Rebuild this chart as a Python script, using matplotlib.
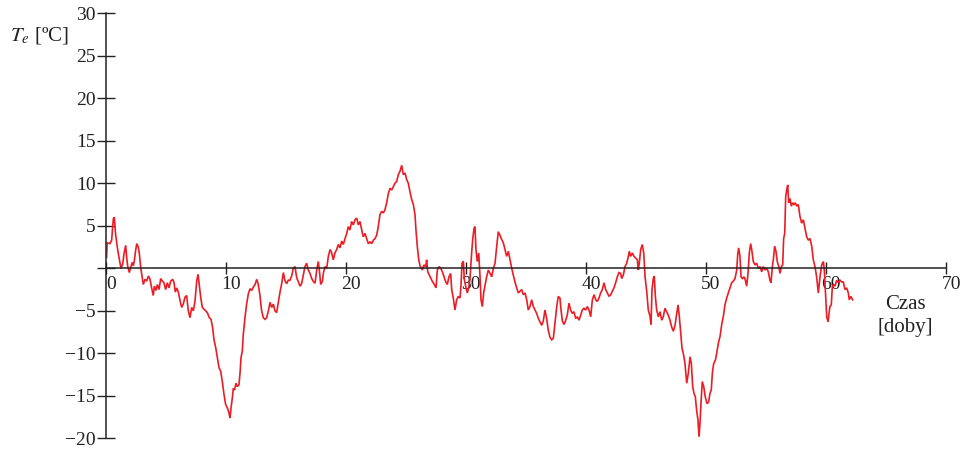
import numpy as np
import matplotlib
matplotlib.use("Agg")
from matplotlib import pyplot as plt
from matplotlib.ticker import FixedLocator, FixedFormatter
from matplotlib.transforms import ScaledTranslation

plt.rcParams['font.family'] = ['Liberation Serif', 'DejaVu Serif']
plt.rcParams['mathtext.fontset'] = 'stix'

# czas [doby] and outdoor temperature Te [C]
days = [
    0.05, 0.1, 0.33, 0.47, 0.61, 0.69, 0.8, 0.94, 1.08, 1.25, 1.39, 1.5, 1.64, 1.72, 1.8, 1.94,
    2.06, 2.19, 2.28, 2.36, 2.47, 2.56, 2.69, 2.78, 2.89, 3.0, 3.11, 3.25, 3.39, 3.53, 3.67, 3.8,
    3.94, 4.03, 4.17, 4.28, 4.42, 4.56, 4.69, 4.83, 4.97, 5.11, 5.25, 5.39, 5.56, 5.67, 5.78, 5.89,
    6.03, 6.17, 6.31, 6.44, 6.58, 6.72, 6.86, 7.0, 7.14, 7.28, 7.42, 7.56, 7.67, 7.78, 7.9, 8.03,
    8.17, 8.31, 8.44, 8.61, 8.75, 8.89, 9.0, 9.14, 9.28, 9.42, 9.56, 9.69, 9.83, 9.97, 10.11, 10.25,
    10.33, 10.42, 10.53, 10.61, 10.72, 10.83, 10.94, 11.08, 11.17, 11.25, 11.36, 11.44, 11.58, 11.72, 11.86, 12.0,
    12.14, 12.28, 12.42, 12.56, 12.69, 12.83, 12.97, 13.11, 13.25, 13.39, 13.53, 13.67, 13.81, 13.94, 14.08, 14.22,
    14.36, 14.5, 14.64, 14.78, 14.92, 15.06, 15.19, 15.33, 15.47, 15.61, 15.75, 15.89, 16.03, 16.17, 16.31, 16.44,
    16.58, 16.72, 16.86, 17.0, 17.14, 17.28, 17.42, 17.56, 17.69, 17.78, 17.89, 18.03, 18.11, 18.25, 18.39, 18.53,
    18.67, 18.81, 18.94, 19.08, 19.22, 19.36, 19.5, 19.64, 19.78, 19.92, 20.06, 20.19, 20.33, 20.47, 20.61, 20.75,
    20.89, 21.03, 21.17, 21.31, 21.44, 21.58, 21.72, 21.86, 22.0, 22.14, 22.28, 22.42, 22.56, 22.69, 22.83, 22.97,
    23.11, 23.25, 23.39, 23.53, 23.67, 23.81, 23.94, 24.08, 24.22, 24.36, 24.5, 24.64, 24.78, 24.92, 25.06, 25.19,
    25.33, 25.47, 25.61, 25.75, 25.83, 25.94, 26.06, 26.17, 26.36, 26.5, 26.64, 26.72, 26.81, 26.94, 27.08, 27.22,
    27.36, 27.5, 27.61, 27.75, 27.89, 28.03, 28.17, 28.31, 28.44, 28.58, 28.72, 28.81, 28.94, 29.08, 29.22, 29.36,
    29.5, 29.58, 29.67, 29.78, 29.86, 30.0, 30.11, 30.22, 30.33, 30.47, 30.56, 30.67, 30.75, 30.83, 30.94, 31.06,
    31.17, 31.25, 31.36, 31.47, 31.61, 31.72, 31.86, 32.0, 32.14, 32.28, 32.42, 32.56, 32.69, 32.83, 32.97, 33.11,
    33.25, 33.39, 33.53, 33.67, 33.81, 33.94, 34.08, 34.22, 34.36, 34.5, 34.64, 34.78, 34.92, 35.06, 35.19, 35.33,
    35.47, 35.61, 35.75, 35.89, 36.03, 36.17, 36.31, 36.44, 36.58, 36.72, 36.86, 37.0, 37.14, 37.28, 37.42, 37.56,
    37.69, 37.83, 37.92, 38.03, 38.17, 38.31, 38.44, 38.58, 38.72, 38.86, 39.0, 39.14, 39.28, 39.42, 39.56, 39.69,
    39.83, 39.97, 40.11, 40.25, 40.39, 40.53, 40.67, 40.81, 40.94, 41.08, 41.22, 41.36, 41.5, 41.64, 41.78, 41.92,
    42.06, 42.19, 42.33, 42.47, 42.61, 42.75, 42.89, 42.97, 43.11, 43.25, 43.39, 43.53, 43.61, 43.72, 43.86, 44.0,
    44.14, 44.28, 44.36, 44.44, 44.56, 44.69, 44.81, 44.92, 45.06, 45.19, 45.33, 45.42, 45.5, 45.61, 45.69, 45.78,
    45.89, 46.03, 46.17, 46.31, 46.44, 46.58, 46.72, 46.86, 47.0, 47.14, 47.28, 47.42, 47.56, 47.67, 47.78, 47.89,
    48.0, 48.11, 48.25, 48.39, 48.53, 48.67, 48.78, 48.89, 49.0, 49.11, 49.22, 49.33, 49.42, 49.5, 49.58, 49.69,
    49.81, 49.94, 50.08, 50.22, 50.33, 50.44, 50.53, 50.64, 50.78, 50.89, 51.03, 51.17, 51.31, 51.44, 51.58, 51.72,
    51.86, 52.0, 52.14, 52.28, 52.42, 52.56, 52.64, 52.72, 52.83, 52.92, 53.03, 53.17, 53.28, 53.39, 53.5, 53.61,
    53.72, 53.81, 53.94, 54.08, 54.22, 54.36, 54.5, 54.64, 54.78, 54.92, 55.06, 55.19, 55.33, 55.42, 55.53, 55.61,
    55.72, 55.83, 55.94, 56.06, 56.17, 56.28, 56.39, 56.47, 56.56, 56.64, 56.72, 56.81, 56.89, 57.0, 57.11, 57.22,
    57.33, 57.44, 57.56, 57.69, 57.83, 57.97, 58.11, 58.25, 58.39, 58.53, 58.67, 58.81, 58.94, 59.08, 59.22, 59.36,
    59.5, 59.64, 59.78, 59.86, 59.94, 60.06, 60.17, 60.25, 60.33, 60.44, 60.53, 60.64, 60.75, 60.89, 61.03, 61.17,
    61.31, 61.44, 61.58, 61.72, 61.86, 61.94, 62.06, 62.22,
]
te = [
    1.3, 3.0, 2.9, 3.3, 5.8, 6.0, 4.0, 2.5, 1.3, 0.0, 0.5, 1.7, 2.7, 1.3, 0.3, -0.5,
    0.1, 0.7, 0.3, 0.9, 2.1, 2.9, 2.5, 1.7, 0.1, -0.9, -1.9, -1.3, -1.5, -0.9, -1.3, -2.3,
    -3.2, -2.1, -2.6, -1.9, -2.5, -1.2, -1.5, -1.7, -2.5, -1.7, -2.3, -1.5, -1.3, -1.7, -2.8, -2.3,
    -2.8, -3.8, -4.6, -4.2, -3.4, -3.2, -5.0, -5.8, -4.6, -5.0, -3.8, -1.5, -0.7, -2.0, -3.5, -4.6,
    -4.8, -5.0, -5.2, -5.8, -6.0, -7.0, -8.4, -9.3, -10.5, -11.7, -12.1, -13.3, -14.8, -16.0, -16.4, -17.0,
    -17.6, -16.4, -15.2, -14.1, -14.3, -13.5, -13.9, -13.7, -12.3, -10.5, -9.7, -7.8, -5.8, -4.2, -3.0, -2.4,
    -2.6, -2.2, -1.9, -1.3, -1.9, -3.2, -5.0, -5.8, -6.0, -5.8, -5.0, -4.0, -4.6, -4.2, -5.0, -5.2,
    -4.0, -2.8, -1.8, -0.5, -1.5, -1.8, -1.4, -1.4, -0.9, 0.0, 0.2, -1.1, -1.6, -2.1, -1.75, -0.8,
    0.2, 0.6, -0.2, -0.6, -1.2, -1.55, -1.75, -0.2, 0.8, -0.2, -1.9, -1.55, -0.6, 0.2, 0.0, 1.4,
    2.2, 1.8, 1.0, 1.8, 2.2, 2.8, 2.4, 3.2, 2.8, 3.5, 4.1, 4.9, 4.5, 5.5, 5.1, 5.7,
    5.9, 5.1, 5.5, 4.5, 3.7, 4.1, 3.5, 2.9, 3.1, 2.9, 3.3, 3.5, 3.9, 4.9, 6.3, 6.7,
    6.5, 6.9, 7.7, 8.8, 9.4, 9.2, 9.6, 10.0, 10.2, 11.0, 11.4, 12.1, 11.0, 11.2, 10.4, 10.0,
    9.0, 8.1, 7.5, 6.3, 4.5, 2.6, 1.0, 0.3, -0.2, 0.4, 0.2, 1.0, -0.4, -0.8, -1.2, -1.6,
    -1.9, -2.3, -0.2, 0.2, 0.0, -0.4, -1.0, -1.6, -1.9, -1.0, -0.6, -2.5, -3.5, -4.9, -3.7, -3.3,
    -3.5, -2.1, 0.6, 0.8, -1.3, -2.3, -2.9, -2.3, -1.3, 1.8, 3.4, 4.7, 4.9, 2.2, 0.8, 1.8,
    -1.0, -3.7, -4.5, -2.9, -1.8, -1.0, -0.2, -0.6, -1.0, 0.0, 0.6, 2.6, 4.3, 3.9, 3.4, 3.0,
    2.2, 1.4, 2.0, 1.0, 0.0, -0.8, -1.6, -2.3, -2.9, -2.7, -2.5, -3.1, -2.9, -3.7, -4.9, -4.5,
    -3.7, -4.5, -4.9, -5.3, -5.9, -6.3, -6.7, -6.2, -4.9, -5.9, -7.3, -8.1, -8.4, -8.2, -6.4, -4.5,
    -3.3, -3.5, -4.9, -6.2, -6.6, -6.1, -5.5, -4.1, -4.9, -5.3, -5.1, -5.9, -5.7, -6.1, -5.5, -4.9,
    -4.7, -4.9, -4.5, -4.9, -5.7, -3.7, -3.1, -3.7, -3.9, -3.5, -2.9, -2.5, -1.7, -2.5, -2.9, -3.3,
    -3.1, -2.7, -2.3, -1.7, -1.0, -0.5, -0.6, -1.2, -0.8, 0.2, 0.6, 1.4, 2.0, 1.4, 1.8, 1.4,
    1.2, 1.0, -0.2, 0.6, 2.2, 2.8, 1.8, -1.0, -2.7, -4.9, -5.6, -6.6, -2.5, -1.2, -0.9, -3.3,
    -4.9, -5.7, -5.1, -6.1, -5.7, -4.7, -5.1, -5.5, -6.1, -6.9, -7.4, -6.7, -5.3, -4.3, -5.7, -7.6,
    -9.4, -10.0, -11.2, -13.5, -12.3, -10.4, -11.2, -13.9, -14.7, -15.1, -16.7, -17.8, -19.8, -18.2, -15.9, -13.3,
    -13.9, -15.1, -15.9, -15.7, -14.7, -14.3, -12.3, -11.2, -10.8, -10.0, -8.8, -8.0, -6.6, -5.7, -4.3, -3.5,
    -2.9, -2.3, -1.7, -1.5, -1.2, -0.2, 1.6, 2.4, 1.4, -1.0, -1.2, -1.0, -1.4, -2.1, -0.6, 1.8,
    2.9, 2.2, 0.8, 0.4, 0.6, 0.0, 0.2, -0.4, 0.2, -0.2, 0.0, -0.4, -1.4, -1.7, 0.2, 1.0,
    2.6, 2.0, 0.8, 0.2, -0.6, 0.2, 0.4, 3.5, 4.1, 8.4, 9.2, 9.8, 7.7, 8.2, 7.3, 7.7,
    7.5, 7.7, 7.3, 7.5, 6.1, 5.3, 5.7, 4.7, 3.7, 3.3, 3.5, 2.6, 1.0, 0.2, -1.0, -2.9,
    -1.0, 0.4, 0.8, -0.2, -2.5, -5.7, -6.3, -5.3, -4.5, -4.3, -2.1, -1.9, -2.1, -1.4, -1.7, -1.4,
    -1.6, -1.6, -2.5, -2.3, -2.9, -3.7, -3.3, -3.7,
]

xticks = [0, 10, 20, 30, 40, 50, 60, 70]
yticks = [30, 25, 20, 15, 10, 5, 0, -5, -10, -15, -20]
ytick_labels = ['30', '25', '20', '15', '10', '5', '', '\u22125', '\u221210', '\u221215', '\u221220']

W, H = 963, 451
fig = plt.figure(figsize=(W / 100, H / 100), dpi=100)
ax = fig.add_axes([106 / W, 12.5 / H, 840 / W, 425.5 / H])

ax.plot(days, te, color='#ec1c24', lw=1.2, solid_joinstyle='miter')

ax.set_xlim(0, 70)
ax.set_ylim(-20, 30)

# axes cross at the origin
for side in ['top', 'right']:
    ax.spines[side].set_visible(False)
ax.spines['left'].set_position(('data', 0))
ax.spines['bottom'].set_position(('data', 0))
for side in ['left', 'bottom']:
    ax.spines[side].set_color('#222222')
    ax.spines[side].set_linewidth(1.1)

ax.xaxis.set_major_locator(FixedLocator(xticks))
ax.xaxis.set_major_formatter(FixedFormatter([str(v) for v in xticks]))
ax.yaxis.set_major_locator(FixedLocator(yticks))
ax.yaxis.set_major_formatter(FixedFormatter(ytick_labels))

ax.tick_params(axis='x', direction='inout', length=9, width=1.0, color='#222222',
               pad=1, labelsize=14, labelcolor='#222222')
ax.tick_params(axis='y', direction='inout', length=13, width=1.0, color='#222222',
               pad=1, labelsize=14, labelcolor='#222222')

shift = ScaledTranslation(5 / 100, 0, fig.dpi_scale_trans)
for lab in ax.get_xticklabels():
    lab.set_transform(lab.get_transform() + shift)

fig.text(10 / W, 1 - 36 / H, '$T_e$ [ºC]', fontsize=15, color='#222222',
         ha='left', va='center')
fig.text(905 / W, 1 - 316 / H, 'Czas\n[doby]', fontsize=15, color='#222222',
         ha='center', va='center', linespacing=1.25)

fig.savefig('out.png', dpi=100)
